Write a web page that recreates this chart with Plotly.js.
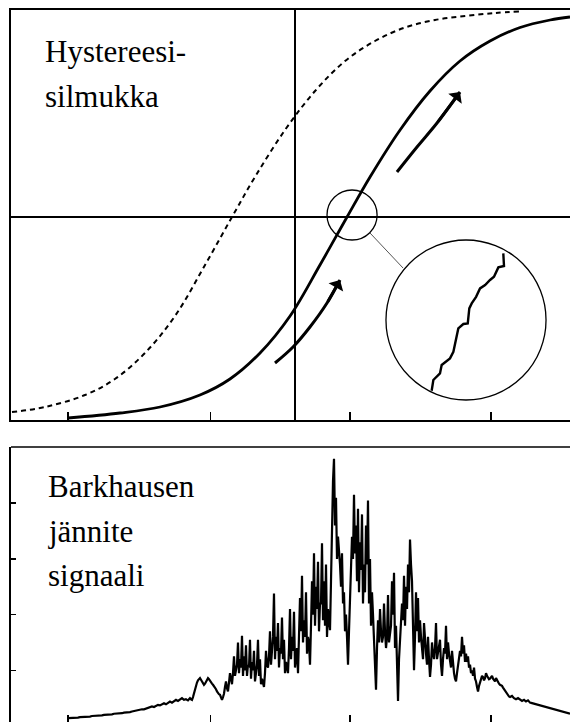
<!DOCTYPE html>
<html>
<head>
<meta charset="utf-8">
<script src="https://cdn.plot.ly/plotly-3.0.1.min.js"></script>
<style>
  html, body { margin: 0; padding: 0; background: #fff; }
  #chart { width: 570px; height: 722px; }
</style>
</head>
<body>
<div id="chart"></div>
<script>
// Field axis (H) tick positions shared by both panels
const xTicks = [-1.61, -0.6, 0.39, 1.39];
// Voltage axis ticks of the lower panel
const vTicks = [1, 2, 3, 4];

// Ascending branch of the hysteresis loop (solid)
const upH = [-1.610, -1.241, -0.957, -0.674, -0.461, -0.248, -0.035, 0.177, 0.369, 0.532, 0.745, 0.957, 1.170, 1.383, 1.596, 1.809, 1.950];
const upB = [-1.005, -0.98, -0.95, -0.89, -0.81, -0.68, -0.495, -0.24, 0.0, 0.20, 0.435, 0.63, 0.78, 0.88, 0.9475, 0.985, 1.0];

// Descending branch (dashed)
const downH = [-2.007, -1.773, -1.489, -1.277, -1.064, -0.851, -0.638, -0.447, -0.284, -0.071, 0.142, 0.355, 0.567, 0.780, 0.993, 1.206, 1.418, 1.596];
const downB = [-0.975, -0.95, -0.89, -0.81, -0.68, -0.495, -0.24, 0.0, 0.20, 0.435, 0.63, 0.78, 0.88, 0.9475, 0.985, 1.005, 1.02, 1.0275];

// Magnified detail: the loop rises in small Barkhausen jumps
const zoomH = [1.477, 1.482, 1.442, 1.411, 1.383, 1.348, 1.312, 1.284, 1.253, 1.236, 1.225, 1.194, 1.158, 1.142, 1.123, 1.099, 1.071, 1.040, 1.028, 1.0, 0.981, 0.969];
const zoomB = [-0.182, -0.245, -0.252, -0.299, -0.315, -0.34, -0.357, -0.399, -0.432, -0.457, -0.532, -0.535, -0.557, -0.615, -0.674, -0.707, -0.724, -0.74, -0.782, -0.799, -0.815, -0.869];

// Direction arrows along the ascending branch
const arrowLowH = [-0.142, -0.014, 0.106, 0.227, 0.319];
const arrowLowB = [-0.73, -0.65, -0.55, -0.43, -0.315];
const arrowHighH = [0.723, 0.865, 1.007, 1.170];
const arrowHighB = [0.225, 0.35, 0.47, 0.625];

// Barkhausen voltage signal on a uniform field grid (even samples)
const sigStartH = -1.61;
const sigStepH = 0.014184;
const signalV = [
  0.14,0.14,0.15,0.15,0.15,0.15,0.16,0.16,0.16,0.17,
  0.17,0.17,0.18,0.18,0.18,0.19,0.19,0.19,0.20,0.20,
  0.20,0.21,0.21,0.22,0.22,0.22,0.23,0.23,0.24,0.24,
  0.25,0.25,0.26,0.27,0.27,0.28,0.29,0.30,0.30,0.31,
  0.32,0.33,0.35,0.34,0.36,0.38,0.37,0.39,0.41,0.39,
  0.42,0.44,0.42,0.45,0.47,0.45,0.48,0.50,0.47,0.48,
  0.46,0.50,0.47,0.60,0.72,0.82,0.86,0.80,0.74,0.80,
  0.86,0.82,0.76,0.72,0.66,0.58,0.56,0.47,0.58,0.80,
  0.62,0.95,0.75,1.25,1.00,1.50,1.20,1.62,1.25,1.45,
  1.10,1.55,1.15,1.35,0.95,1.55,1.20,0.85,0.70,1.35,
  1.05,1.70,1.40,2.38,1.60,1.85,1.40,1.95,1.55,1.15,
  0.95,2.10,1.60,2.05,1.30,0.95,2.30,2.70,1.90,2.40,
  1.60,1.10,2.60,3.10,2.50,2.95,2.20,3.28,2.60,2.90,
  2.10,1.72,3.90,4.80,4.10,3.40,2.90,3.10,2.40,2.00,
  1.10,2.30,3.40,4.15,3.60,3.90,3.30,3.80,2.90,3.60,
  4.05,3.00,2.40,1.60,0.65,1.90,2.10,1.50,2.20,1.40,
  2.35,1.70,2.60,2.75,1.80,0.45,1.60,2.20,2.70,2.50,
  2.90,3.35,2.60,1.00,2.40,2.30,1.90,1.40,1.85,1.30,
  1.60,0.88,1.50,1.20,1.85,1.30,1.55,0.90,1.40,1.80,
  1.50,1.20,1.35,0.95,0.80,1.10,1.35,1.60,1.45,1.30,
  1.25,1.10,1.00,1.05,0.80,0.62,0.80,0.90,0.82,0.95,
  0.88,0.85,0.90,0.82,0.86,0.78,0.74,0.72,0.66,0.62,
  0.55,0.52,0.54,0.50,0.48,0.50,0.47,0.45,0.47,0.44,
  0.46,0.42,0.41,0.40,0.39,0.38,0.37,0.36,0.35,0.34,
  0.33,0.32,0.31,0.30,0.29,0.28,0.27,0.26,0.25,0.24,
  0.23,0.22
];
// Intermediate (odd) samples across the noisy part of the signal
const midFirstIndex = 59;   // first even sample followed by an odd one
const signalMid = [
  0.47,0.48,0.48,0.52,0.66,0.78,0.84,0.83,0.77,0.76,
  0.84,0.84,0.79,0.74,0.69,0.62,0.57,0.50,0.52,0.70,
  0.68,0.78,0.85,0.95,0.90,1.10,0.95,1.05,0.90,1.00,
  0.90,1.05,0.85,1.00,0.80,1.10,0.90,0.75,0.78,0.95,
  1.10,1.25,1.10,1.60,1.20,1.35,1.05,1.30,1.20,0.95,
  1.00,1.40,1.20,1.35,1.05,1.40,1.60,1.70,1.50,1.60,
  1.30,1.50,1.80,2.00,1.80,2.10,1.70,2.20,1.90,1.80,
  1.60,1.90,2.60,4.40,3.60,3.00,3.20,2.50,2.20,1.70,
  1.60,1.70,2.80,3.00,3.10,2.60,2.40,2.80,2.20,2.40,
  2.90,2.20,1.80,2.00,1.10,1.40,1.50,1.70,1.60,1.70,
  1.60,1.50,1.80,2.00,1.40,1.10,1.20,1.70,1.90,1.80,
  2.10,2.40,2.90,1.80,1.60,1.70,1.50,1.60,1.20,1.50,
  1.10,1.20,1.10,1.30,1.40,1.20,1.40,1.10,1.20,1.30,
  1.20,1.30,1.05,1.10,0.85,0.95,1.20,1.25,1.30,1.15,
  1.15,1.05,0.95,0.90,0.85,0.70,0.72,0.85,0.88,0.86,
  0.90,0.84,0.88,0.85,0.80,0.82,0.76,0.73,0.69,0.64,
  0.58,0.53
];

// Interleave even and odd samples into one trace
const sigH = [], sigV = [];
signalV.forEach((v, i) => {
  sigH.push(sigStartH + i * sigStepH);
  sigV.push(v);
  const j = i - midFirstIndex;
  if (j >= 0 && j < signalMid.length) {
    sigH.push(sigStartH + (i + 0.5) * sigStepH);
    sigV.push(signalMid[j]);
  }
});

// Panel labels
const labelTop = ['Hystereesi-', 'silmukka'];
const labelBottom = ['Barkhausen', 'jännite', 'signaali'];

const W = 570, Ht = 722;
const py = p => 1 - p / Ht;           // pixel row -> paper fraction
const serif = '"Liberation Serif", "Times New Roman", Times, serif';
const textFont = { family: serif, size: 31, color: '#000' };

const traces = [
  { x: downH, y: downB, xaxis: 'x', yaxis: 'y', mode: 'lines',
    line: { color: '#000', width: 2, dash: '5px,4px', shape: 'spline', smoothing: 1 } },
  { x: upH, y: upB, xaxis: 'x', yaxis: 'y', mode: 'lines',
    line: { color: '#000', width: 2.8, shape: 'spline', smoothing: 1 } },
  { x: zoomH, y: zoomB, xaxis: 'x', yaxis: 'y', mode: 'lines',
    line: { color: '#000', width: 2.4 } },
  { x: arrowLowH, y: arrowLowB, xaxis: 'x', yaxis: 'y', mode: 'lines',
    line: { color: '#000', width: 3, shape: 'spline' } },
  { x: arrowHighH, y: arrowHighB, xaxis: 'x', yaxis: 'y', mode: 'lines',
    line: { color: '#000', width: 3, shape: 'spline' } },
  { x: sigH, y: sigV, xaxis: 'x2', yaxis: 'y2', mode: 'lines',
    line: { color: '#000', width: 2.2 } }
];

const annotations = [];
labelTop.forEach((t, i) => annotations.push({
  xref: 'paper', yref: 'paper', x: 32 / 559, y: py([52, 97][i]),
  xanchor: 'left', yanchor: 'middle', text: t, showarrow: false, font: textFont
}));
labelBottom.forEach((t, i) => annotations.push({
  xref: 'paper', yref: 'paper', x: 35 / 559, y: py([486, 531, 575][i]),
  xanchor: 'left', yanchor: 'middle', text: t, showarrow: false, font: textFont
}));
// arrow heads at the end of each direction arrow
[[arrowLowH, arrowLowB], [arrowHighH, arrowHighB]].forEach(([hx, by]) => {
  const n = hx.length;
  annotations.push({
    xref: 'x', yref: 'y', axref: 'x', ayref: 'y',
    x: hx[n - 1], y: by[n - 1], ax: hx[n - 2], ay: by[n - 2],
    text: '', showarrow: true, arrowhead: 1, arrowsize: 1.0, arrowwidth: 2.8, arrowcolor: '#000'
  });
});

const shapes = [
  // small circle around the crossing point
  { type: 'circle', xref: 'x', yref: 'y', x0: 0.227, x1: 0.582, y0: -0.115, y1: 0.135,
    line: { color: '#000', width: 1.3 } },
  // enlarged view
  { type: 'circle', xref: 'x', yref: 'y', x0: 0.645, x1: 1.780, y0: -0.915, y1: -0.115,
    line: { color: '#000', width: 1.3 } },
  // leader line between the two circles
  { type: 'line', xref: 'x', yref: 'y', x0: 0.532, y0: -0.08, x1: 0.766, y1: -0.255,
    line: { color: '#555', width: 1 } },
  // top border of the lower panel
  { type: 'line', xref: 'paper', yref: 'paper', x0: 0, x1: 1, y0: py(447), y1: py(447),
    line: { color: '#000', width: 1.6 } }
];

const axisBase = {
  showgrid: false, showticklabels: false, linecolor: '#000', tickcolor: '#000'
};

const layout = {
  width: W, height: Ht,
  margin: { l: 11, r: 0, t: 0, b: 0, pad: 0 },
  paper_bgcolor: '#fff', plot_bgcolor: '#fff',
  showlegend: false,
  font: { family: serif },
  xaxis: Object.assign({}, axisBase, {
    domain: [0, 1], range: [-2.014, 1.95], anchor: 'y',
    showline: true, mirror: true, linewidth: 1.6,
    ticks: 'inside', ticklen: 8, tickwidth: 1.6, tickvals: xTicks,
    zeroline: true, zerolinecolor: '#000', zerolinewidth: 1.2
  }),
  yaxis: Object.assign({}, axisBase, {
    domain: [py(420), py(10)], range: [-1.015, 1.035], anchor: 'x',
    showline: true, linewidth: 1.6, ticks: '',
    zeroline: true, zerolinecolor: '#000', zerolinewidth: 1.2
  }),
  xaxis2: Object.assign({}, axisBase, {
    domain: [0, 1], range: [-2.014, 1.95], anchor: 'y2',
    showline: false, ticks: 'inside', ticklen: 7, tickwidth: 1.6, tickvals: xTicks,
    zeroline: false
  }),
  yaxis2: Object.assign({}, axisBase, {
    domain: [0, py(447)], range: [0.072, 5.01], anchor: 'x2',
    showline: true, linewidth: 1.6, ticks: 'inside', ticklen: 5, tickwidth: 1.6,
    tickvals: vTicks, zeroline: false
  }),
  shapes: shapes,
  annotations: annotations
};

Plotly.newPlot('chart', traces, layout, { staticPlot: true, displayModeBar: false });
</script>
</body>
</html>
